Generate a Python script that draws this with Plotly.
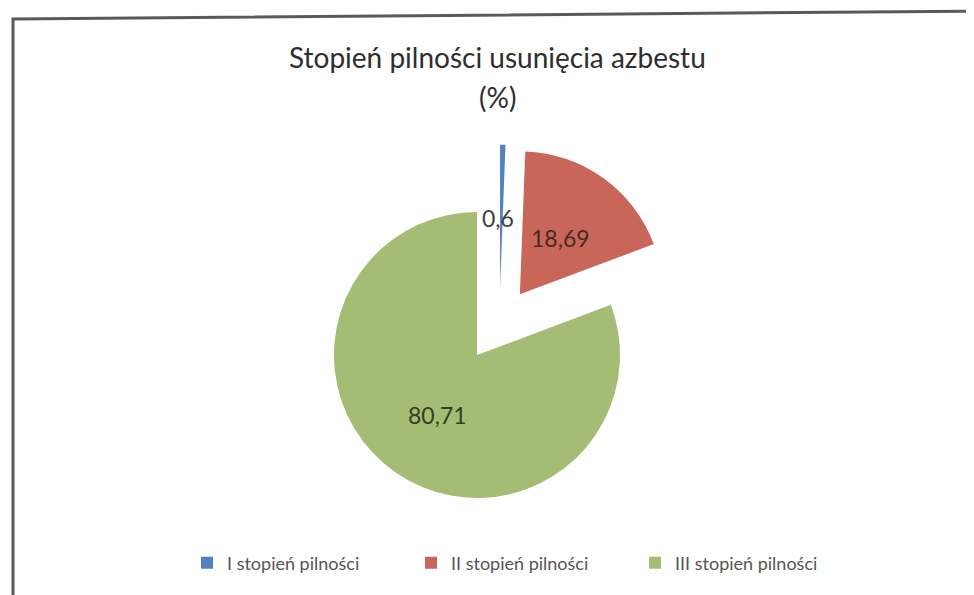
import plotly.graph_objects as go

W, H = 974, 595
OFF = 8  # default page body margin around the figure
FW, FH = W - OFF, H - OFF  # figure reaches the window's right and bottom edges

categories = ["I stopień pilności", "II stopień pilności", "III stopień pilności"]
values = [0.6, 18.69, 80.71]
colors = ["#5080BF", "#C9665A", "#A4BC74"]
pulls = [0.245, 0.245, 0.275]
title_lines = ["Stopień pilności usunięcia azbestu", "(%)"]

# page-pixel positions of data labels (x, y from top-left)
label_pos = [(498, 218), (560, 238), (437, 415)]
label_colors = ["#404040", "#4A2A22", "#34401F"]


def fmt(v):
    s = ("%.2f" % v).rstrip("0").rstrip(".")
    return s.replace(".", ",")


def px(x, y):
    """page pixels -> paper fraction"""
    return (x - OFF) / FW, 1 - (y - OFF) / FH


# pie geometry (page pixels)
cx, cy, r = 499.4, 322.7, 143
half = r * (1 + max(pulls))
dx0, dy1 = px(cx - half, cy - half)
dx1, dy0 = px(cx + half, cy + half)

fig = go.Figure()
fig.add_trace(go.Pie(
    labels=categories,
    values=values,
    marker=dict(colors=colors, line=dict(width=0)),
    pull=pulls,
    sort=False,
    direction="clockwise",
    rotation=0,
    textinfo="none",
    hoverinfo="label+value",
    domain=dict(x=[dx0, dx1], y=[dy0, dy1]),
))

annotations = []
for v, (lx, ly), c in zip(values, label_pos, label_colors):
    ax, ay = px(lx, ly)
    annotations.append(dict(x=ax, y=ay, xref="paper", yref="paper",
                            xanchor="center", yanchor="middle",
                            text=fmt(v), showarrow=False,
                            font=dict(family="Lato", size=23, color=c)))

for line, ypix in zip(title_lines, [57, 97]):
    tx, ty = px(497, ypix)
    annotations.append(dict(x=tx, y=ty, xref="paper", yref="paper",
                            xanchor="center", yanchor="middle",
                            text=line, showarrow=False,
                            font=dict(family="Lato", size=28, color="#2E2E2E")))

lgx, lgy = px(187, 563)

# scanned frame (page pixels -> paper)
fx0, fy0 = px(13, 610)
fx1, fy1 = px(13, 19)
fx2, fy2 = px(990, 11)
frame_path = "M %f,%f L %f,%f L %f,%f" % (fx0, fy0, fx1, fy1, fx2, fy2)

fig.update_layout(
    width=FW, height=FH,
    margin=dict(l=0, r=0, t=0, b=0),
    paper_bgcolor="white",
    plot_bgcolor="white",
    annotations=annotations,
    showlegend=True,
    legend=dict(orientation="h", x=lgx, y=lgy, xanchor="left", yanchor="middle",
                font=dict(family="Lato", size=18, color="#555555"),
                entrywidth=179, entrywidthmode="pixels", itemwidth=30,
                traceorder="normal"),
    shapes=[dict(type="path", xref="paper", yref="paper", path=frame_path,
                 line=dict(color="#5A5A5A", width=3))],
)

fig.write_html("out.html")
